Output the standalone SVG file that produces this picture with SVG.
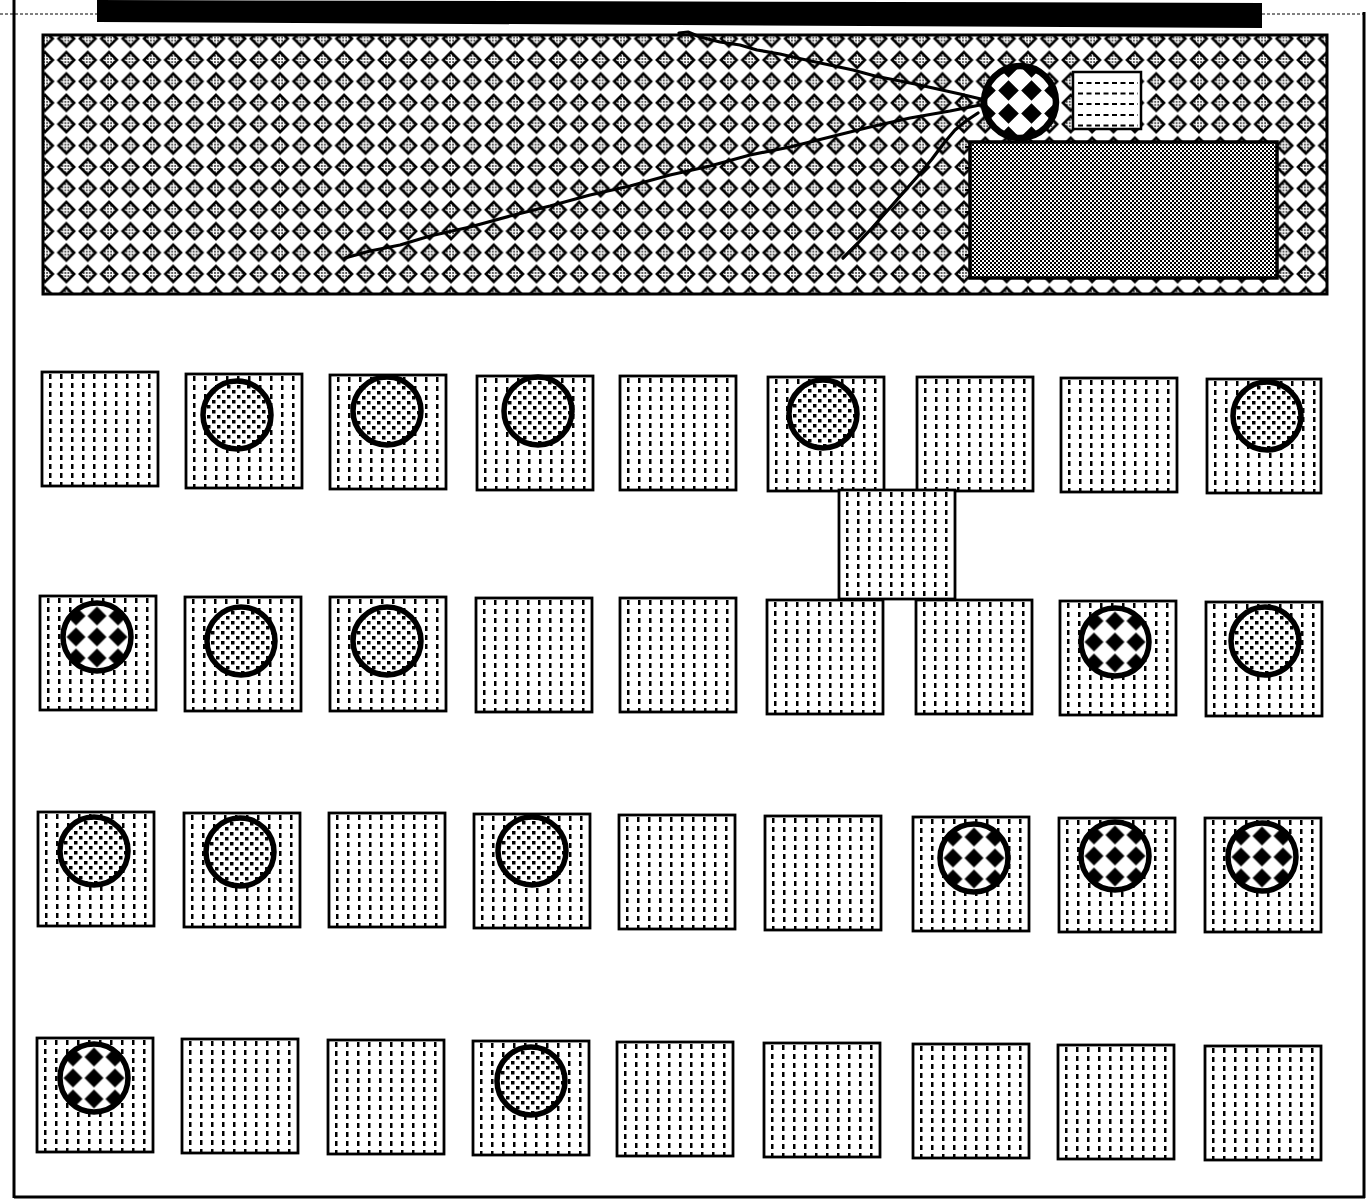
<svg xmlns="http://www.w3.org/2000/svg" width="1370" height="1202" viewBox="0 0 1370 1202">
<style>
.frame{fill:none;stroke:#000;stroke-width:3}
.thin{fill:none;stroke:#000;stroke-width:1;stroke-dasharray:3 2}
.sq{fill:url(#vdash);stroke:#000;stroke-width:2.8}
.dot{fill:url(#dots);stroke:#000;stroke-width:5.5}
.chk{fill:url(#chk);stroke:#000;stroke-width:5.5}
.conn{fill:none;stroke:#000;stroke-width:3.2;stroke-linejoin:round;stroke-linecap:round}
</style>
<defs>
<pattern id="fine" patternUnits="userSpaceOnUse" width="3" height="3">
<rect width="3" height="3" fill="#fff"/>
<rect width="1.4" height="1.4" fill="#000"/>
</pattern>
<pattern id="diam" patternUnits="userSpaceOnUse" x="34.3" y="27.9" width="21.37" height="21.4">
<rect width="21.37" height="21.4" fill="#fff"/>
<path d="M10.685,2.9 L18.5,10.7 L10.685,18.5 L2.87,10.7 Z" fill="url(#fine)" stroke="#000" stroke-width="2.6"/>
</pattern>
<pattern id="dense" patternUnits="userSpaceOnUse" width="4" height="4">
<rect width="4" height="4" fill="#fff"/>
<rect width="2" height="2" fill="#000"/>
<rect x="2" y="2" width="2" height="2" fill="#000"/>
</pattern>
<pattern id="vdash" patternUnits="userSpaceOnUse" width="11" height="9">
<rect width="11" height="9" fill="#fff"/>
<rect x="7" y="2" width="2.5" height="5" fill="#000"/>
</pattern>
<pattern id="dots" patternUnits="userSpaceOnUse" width="10" height="10">
<rect width="10" height="10" fill="#fff"/>
<rect x="0" y="0" width="3.5" height="3.5" fill="#000"/>
<rect x="5" y="5" width="3.5" height="3.5" fill="#000"/>
</pattern>
<pattern id="chk" patternUnits="userSpaceOnUse" x="-10.5" y="-10.5" width="21" height="21">
<rect width="21" height="21" fill="#fff"/>
<path d="M10.5,1 L20,10.5 L10.5,20 L1,10.5 Z" fill="#000"/>
</pattern>
<pattern id="chk2" patternUnits="userSpaceOnUse" x="0" y="0" width="23" height="23">
<rect width="23" height="23" fill="#fff"/>
<path d="M11.5,1.2 L21.8,11.5 L11.5,21.8 L1.2,11.5 Z" fill="#000"/>
</pattern>
</defs>

<rect width="1370" height="1202" fill="#fff"/>

<g id="frame">
<polygon points="97,0 1262,3 1262,28 97,22" fill="#000"/>
<line class="frame" x1="14" y1="0" x2="14" y2="1198"/>
<line class="frame" x1="14" y1="1197" x2="1365" y2="1197"/>
<line class="frame" x1="1364" y1="12" x2="1364" y2="1198"/>
<line class="thin" x1="0" y1="14" x2="97" y2="14"/>
<line class="thin" x1="1262" y1="14" x2="1364" y2="14"/>
<ellipse cx="668" cy="20" rx="5" ry="3" fill="#000"/>
</g>

<g id="panel">
<rect x="43" y="35" width="1284" height="259" fill="url(#diam)" stroke="#000" stroke-width="3"/>
</g>

<g id="connectors">
<polyline class="conn" points="679,33 688,32 700,37 720,42 740,45 757,50 780,54 797,58 825,64 853,70 875,76 895,80 915,84 933,88 960,94 985,100"/>
<polyline class="conn" points="345,258 370,251 400,245 430,236 470,227 510,216 550,206 590,195 630,186 670,175 710,166 750,155 790,147 830,137 870,127 910,118 950,111 985,104"/>
<polyline class="conn" points="843,258 858,243 872,228 888,210 902,194 918,176 932,159 944,143 955,130 966,121 978,113"/>
</g>

<g id="hub" transform="translate(1020,102)">
<circle r="36" fill="url(#chk2)" stroke="#000" stroke-width="6.5"/>
</g>

<g id="tag">
<rect x="1073" y="72" width="68" height="57" fill="#fff" stroke="#000" stroke-width="2.5"/>
<g stroke="#000" stroke-width="2.2" stroke-dasharray="5 3.5">
<line x1="1078" y1="83" x2="1138" y2="83"/>
<line x1="1078" y1="93.5" x2="1138" y2="93.5"/>
<line x1="1078" y1="104" x2="1138" y2="104"/>
<line x1="1078" y1="115" x2="1138" y2="115"/>
<line x1="1078" y1="125.5" x2="1138" y2="125.5"/>
</g>
</g>

<g id="block">
<rect x="970" y="142" width="307" height="136" fill="url(#dense)" stroke="#000" stroke-width="3.5"/>
<g stroke="#000" stroke-width="2">
<line x1="965" y1="147" x2="970" y2="147"/>
<line x1="965" y1="168" x2="970" y2="168"/>
<line x1="965" y1="190" x2="970" y2="190"/>
<line x1="965" y1="212" x2="970" y2="212"/>
<line x1="965" y1="233" x2="970" y2="233"/>
<line x1="965" y1="255" x2="970" y2="255"/>
</g>
</g>

<!-- row 1 -->
<g id="r1c1" transform="translate(42,372)"><rect class="sq" width="116" height="114"/></g>
<g id="r1c2" transform="translate(186,374)"><rect class="sq" width="116" height="114"/><g transform="translate(51,41)"><circle class="dot" r="34"/></g></g>
<g id="r1c3" transform="translate(330,375)"><rect class="sq" width="116" height="114"/><g transform="translate(57,36)"><circle class="dot" r="34"/></g></g>
<g id="r1c4" transform="translate(477,376)"><rect class="sq" width="116" height="114"/><g transform="translate(61,35)"><circle class="dot" r="34"/></g></g>
<g id="r1c5" transform="translate(620,376)"><rect class="sq" width="116" height="114"/></g>
<g id="r1c6" transform="translate(768,377)"><rect class="sq" width="116" height="114"/><g transform="translate(55,37)"><circle class="dot" r="34"/></g></g>
<g id="r1c7" transform="translate(917,377)"><rect class="sq" width="116" height="114"/></g>
<g id="r1c8" transform="translate(1061,378)"><rect class="sq" width="116" height="114"/></g>
<g id="r1c9" transform="translate(1207,379)"><rect class="sq" width="114" height="114"/><g transform="translate(60,37)"><circle class="dot" r="34"/></g></g>

<!-- bridge -->
<g id="bridge" transform="translate(839,490)"><rect class="sq" width="116" height="109"/></g>

<!-- row 2 -->
<g id="r2c1" transform="translate(40,596)"><rect class="sq" width="116" height="114"/><g transform="translate(57,41)"><circle class="chk" r="34"/></g></g>
<g id="r2c2" transform="translate(185,597)"><rect class="sq" width="116" height="114"/><g transform="translate(56,44)"><circle class="dot" r="34"/></g></g>
<g id="r2c3" transform="translate(330,597)"><rect class="sq" width="116" height="114"/><g transform="translate(57,44)"><circle class="dot" r="34"/></g></g>
<g id="r2c4" transform="translate(476,598)"><rect class="sq" width="116" height="114"/></g>
<g id="r2c5" transform="translate(620,598)"><rect class="sq" width="116" height="114"/></g>
<g id="r2c6" transform="translate(767,600)"><rect class="sq" width="116" height="114"/></g>
<g id="r2c7" transform="translate(916,600)"><rect class="sq" width="116" height="114"/></g>
<g id="r2c8" transform="translate(1060,601)"><rect class="sq" width="116" height="114"/><g transform="translate(55,41)"><circle class="chk" r="34"/></g></g>
<g id="r2c9" transform="translate(1206,602)"><rect class="sq" width="116" height="114"/><g transform="translate(59,39)"><circle class="dot" r="34"/></g></g>

<!-- row 3 -->
<g id="r3c1" transform="translate(38,812)"><rect class="sq" width="116" height="114"/><g transform="translate(56,39)"><circle class="dot" r="34"/></g></g>
<g id="r3c2" transform="translate(184,813)"><rect class="sq" width="116" height="114"/><g transform="translate(56,39)"><circle class="dot" r="34"/></g></g>
<g id="r3c3" transform="translate(329,813)"><rect class="sq" width="116" height="114"/></g>
<g id="r3c4" transform="translate(474,814)"><rect class="sq" width="116" height="114"/><g transform="translate(58,37)"><circle class="dot" r="34"/></g></g>
<g id="r3c5" transform="translate(619,815)"><rect class="sq" width="116" height="114"/></g>
<g id="r3c6" transform="translate(765,816)"><rect class="sq" width="116" height="114"/></g>
<g id="r3c7" transform="translate(913,817)"><rect class="sq" width="116" height="114"/><g transform="translate(61,41)"><circle class="chk" r="34"/></g></g>
<g id="r3c8" transform="translate(1059,818)"><rect class="sq" width="116" height="114"/><g transform="translate(56,38)"><circle class="chk" r="34"/></g></g>
<g id="r3c9" transform="translate(1205,818)"><rect class="sq" width="116" height="114"/><g transform="translate(57,39)"><circle class="chk" r="34"/></g></g>

<!-- row 4 -->
<g id="r4c1" transform="translate(37,1038)"><rect class="sq" width="116" height="114"/><g transform="translate(57,40)"><circle class="chk" r="34"/></g></g>
<g id="r4c2" transform="translate(182,1039)"><rect class="sq" width="116" height="114"/></g>
<g id="r4c3" transform="translate(328,1040)"><rect class="sq" width="116" height="114"/></g>
<g id="r4c4" transform="translate(473,1041)"><rect class="sq" width="116" height="114"/><g transform="translate(58,40)"><circle class="dot" r="34"/></g></g>
<g id="r4c5" transform="translate(617,1042)"><rect class="sq" width="116" height="114"/></g>
<g id="r4c6" transform="translate(764,1043)"><rect class="sq" width="116" height="114"/></g>
<g id="r4c7" transform="translate(913,1044)"><rect class="sq" width="116" height="114"/></g>
<g id="r4c8" transform="translate(1058,1045)"><rect class="sq" width="116" height="114"/></g>
<g id="r4c9" transform="translate(1205,1046)"><rect class="sq" width="116" height="114"/></g>
</svg>
